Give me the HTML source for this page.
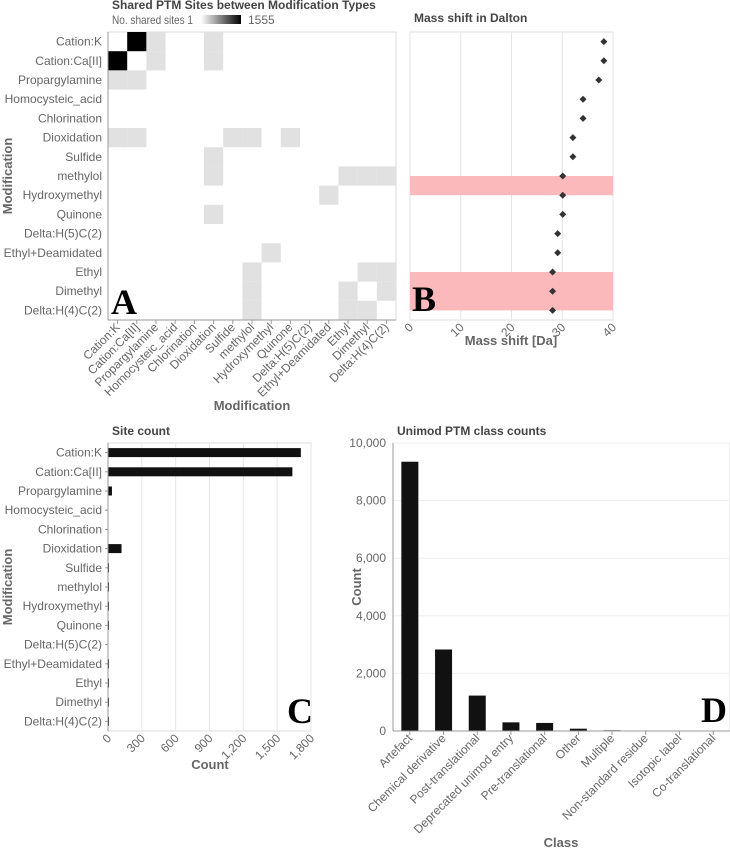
<!DOCTYPE html>
<html><head><meta charset="utf-8"><style>
body{margin:0;background:#fff}
svg{display:block;font-family:"Liberation Sans",sans-serif}
.t{fill:#666;font-size:12px}
.ti{fill:#444;font-size:12px;font-weight:bold}
.at{fill:#666;font-size:13px;font-weight:bold}
.big{font-family:"Liberation Serif",serif;font-weight:bold;font-size:36px;fill:#000}
</style></head><body>
<svg id="s" width="730" height="850">
<defs><linearGradient id="g"><stop offset="0" stop-color="#fff"/><stop offset="1" stop-color="#000"/></linearGradient></defs>
<text class="ti" x="112" y="9">Shared PTM Sites between Modification Types</text>
<text class="t" x="112" y="24" font-size="11" textLength="81" lengthAdjust="spacingAndGlyphs">No. shared sites 1</text>
<rect x="201" y="15" width="40" height="9" fill="url(#g)"/>
<text class="t" x="248" y="24">1555</text>
<text class="ti" x="414" y="22">Mass shift in Dalton</text>
<text class="ti" x="112" y="435">Site count</text>
<text class="ti" x="397" y="435">Unimod PTM class counts</text>
<g id="A"></g><g id="B"></g><g id="C"></g><g id="D"></g>
</svg>
<script>
const mods=["Cation:K","Cation:Ca[II]","Propargylamine","Homocysteic_acid","Chlorination","Dioxidation","Sulfide","methylol","Hydroxymethyl","Quinone","Delta:H(5)C(2)","Ethyl+Deamidated","Ethyl","Dimethyl","Delta:H(4)C(2)"];
const pairRows=[0,0,0,1,1,5,5,5,7,7,7,8,12,12,13];
const pairCols=[1,2,5,2,5,6,7,9,12,13,14,11,13,14,14];
const pairVals=[1555,1,1,1,1,1,1,1,1,1,1,1,1,1,1];
const massShift=[38.2,38.2,37.2,34.1,34.1,32.1,32.1,30.1,30.1,30.1,29.1,29.1,28.1,28.1,28.1];
const bandStart=[7,12];const bandEnd=[8,14];
const massTicks=[0,10,20,30,40];
const siteCounts=[1710,1635,35,0,0,120,3,3,3,3,0,3,3,3,3];
const countTicks=[0,300,600,900,1200,1500,1800];
const classes=["Artefact","Chemical derivative","Post-translational","Deprecated unimod entry","Pre-translational","Other","Multiple","Non-standard residue","Isotopic label","Co-translational"];
const classCounts=[9350,2830,1230,300,280,80,25,8,4,3];
const classTicks=[0,2000,4000,6000,8000,10000];
const NS="http://www.w3.org/2000/svg";
function mk(p,tag,a,txt){const e=document.createElementNS(NS,tag);for(const k in a)e.setAttribute(k,a[k]);if(txt!==undefined)e.textContent=txt;p.appendChild(e);return e;}
const fmt=v=>v.toLocaleString("en-US");
const cell=19.2;
// Panel A
const A=document.getElementById("A");const ax0=108,ay0=32;
const cx=i=>ax0+cell*i,cy=i=>ay0+cell*i;
mk(A,"rect",{x:ax0,y:ay0,width:cell*15,height:cell*15,fill:"none",stroke:"#ddd"});
function col(v){const g=Math.round(225*(1-Math.log(v)/Math.log(1555)));return `rgb(${g},${g},${g})`;}
pairRows.forEach((r,k)=>{const c=pairCols[k],v=pairVals[k];
 [[r,c],[c,r]].forEach(([rr,cc])=>{const e=mk(A,"rect",{x:cx(cc),y:cy(rr),width:cell,height:cell,fill:col(v)});
 
 });});
mods.forEach((m,i)=>{
 const l=mk(A,"text",{class:"t",x:ax0-6,y:cy(i)+cell/2+4,"text-anchor":"end"},m);
 
 
 const x=cx(i)+cell/2;
 const xl=mk(A,"text",{class:"t",transform:`translate(${x+3},${ay0+cell*15+8}) rotate(-45)`,"text-anchor":"end"},m);
 
 
 mk(A,"line",{x1:x,x2:x,y1:ay0+cell*15,y2:ay0+cell*15+4,stroke:"#999"});
});
mk(A,"line",{x1:ax0,x2:ax0,y1:ay0,y2:ay0+cell*15,stroke:"#999"});
mk(A,"line",{x1:ax0,x2:ax0+cell*15,y1:ay0+cell*15,y2:ay0+cell*15,stroke:"#999"});
const at1=mk(A,"text",{class:"at",x:252,y:410,"text-anchor":"middle"},"Modification");
const at2=mk(A,"text",{class:"at",transform:"translate(12,176) rotate(-90)","text-anchor":"middle"},"Modification");
const la=mk(A,"text",{class:"big",x:111,y:314},"A");
// Panel B
const B=document.getElementById("B");const bx0=410,bw=203;const bx=v=>bx0+v/40*bw;
mk(B,"rect",{x:bx0,y:ay0,width:bw,height:cell*15,fill:"none",stroke:"#ddd"});
massTicks.forEach(t=>{mk(B,"line",{x1:bx(t),x2:bx(t),y1:ay0,y2:ay0+cell*15,stroke:"#e3e3e3"});
 const e=mk(B,"text",{class:"t",transform:`translate(${bx(t)+4},${ay0+cell*15+8}) rotate(-45)`,"text-anchor":"end"},t);
 
 });
bandStart.forEach((s,k)=>{const e=mk(B,"rect",{x:bx0,y:cy(s)+cell/2,width:bw,height:(bandEnd[k]-s)*cell,fill:"#fbb9bb"});
 
 });
massShift.forEach((v,i)=>{const x=bx(v),y=cy(i)+cell/2;
 const e=mk(B,"path",{d:`M${x},${y-3.5}L${x+3.5},${y}L${x},${y+3.5}L${x-3.5},${y}Z`,fill:"#333"});
 
 });
const bt=mk(B,"text",{class:"at",x:511,y:345,"text-anchor":"middle"},"Mass shift [Da]");
const lb=mk(B,"text",{class:"big",x:412,y:311},"B");
// Panel C
const C=document.getElementById("C");const c0=108,cw=203,cyt=443;const ccx=v=>c0+v/1800*cw,ccy=i=>cyt+cell*i;
mk(C,"rect",{x:c0,y:cyt,width:cw,height:cell*15,fill:"none",stroke:"#ddd"});
countTicks.forEach(t=>{mk(C,"line",{x1:ccx(t),x2:ccx(t),y1:cyt,y2:cyt+cell*15,stroke:"#e6e6e6"});
 const e=mk(C,"text",{class:"t",transform:`translate(${ccx(t)+4},${cyt+cell*15+8}) rotate(-45)`,"text-anchor":"end"},fmt(t));
 
 });
siteCounts.forEach((v,i)=>{const y=ccy(i)+cell/2;
 const b=mk(C,"rect",{x:c0,y:y-4.5,width:Math.max(ccx(v)-c0,v>0?1:0),height:9,fill:"#111"});
 
 
 const l=mk(C,"text",{class:"t",x:c0-6,y:y+4,"text-anchor":"end"},mods[i]);
 
 
 mk(C,"line",{x1:c0-3,x2:c0,y1:y,y2:y,stroke:"#999"});});
mk(C,"line",{x1:c0,x2:c0,y1:cyt,y2:cyt+cell*15,stroke:"#999"});
const ct=mk(C,"text",{class:"at",x:210,y:769,"text-anchor":"middle"},"Count");
const cyl=mk(C,"text",{class:"at",transform:"translate(12,587) rotate(-90)","text-anchor":"middle"},"Modification");
const lc=mk(C,"text",{class:"big",x:287,y:723},"C");
// Panel D
const D=document.getElementById("D");const d0=393,dw=337,dt=443,db=731;const dy=v=>db-v/10000*(db-dt);const bandW=dw/10;
mk(D,"rect",{x:d0,y:dt,width:dw,height:db-dt,fill:"none",stroke:"#ddd"});
classTicks.forEach(t=>{mk(D,"line",{x1:d0,x2:d0+dw,y1:dy(t),y2:dy(t),stroke:"#eee"});
 const e=mk(D,"text",{class:"t",x:d0-7,y:dy(t)+4,"text-anchor":"end"},fmt(t));
 
 });
classCounts.forEach((v,i)=>{const x=d0+bandW*(i+0.5);
 const b=mk(D,"rect",{x:x-8.5,y:dy(v),width:17,height:db-dy(v),fill:"#111"});
 
 
 mk(D,"line",{x1:x,x2:x,y1:db,y2:db+4,stroke:"#999"});
 const l=mk(D,"text",{class:"t",transform:`translate(${x+3},${db+8}) rotate(-45)`,"text-anchor":"end"},classes[i]);
 
 });
mk(D,"line",{x1:d0,x2:d0+dw,y1:db,y2:db,stroke:"#999"});
mk(D,"line",{x1:d0,x2:d0,y1:dt,y2:db,stroke:"#999"});
const dx=mk(D,"text",{class:"at",x:561,y:847,"text-anchor":"middle"},"Class");
const dyt=mk(D,"text",{class:"at",transform:"translate(361,587) rotate(-90)","text-anchor":"middle"},"Count");
const ld=mk(D,"text",{class:"big",x:701,y:722},"D");
</script>
</body></html>
